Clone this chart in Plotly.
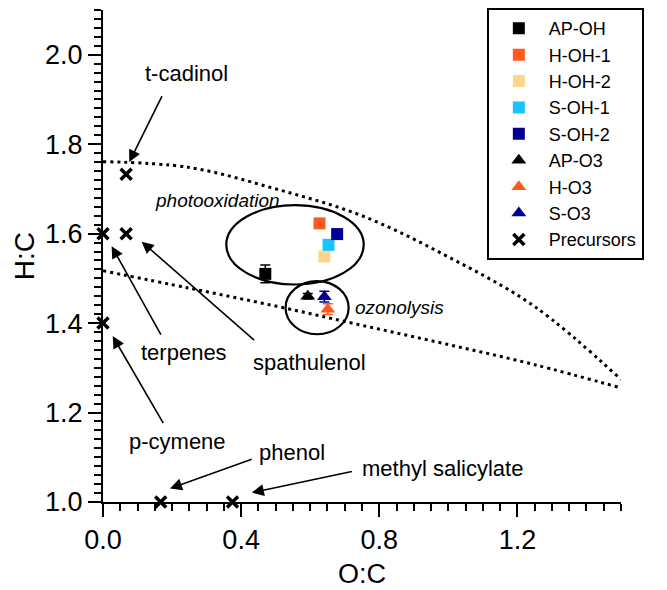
import plotly.graph_objects as go

# ---------------- data ----------------
series_names = ["AP-OH", "H-OH-1", "H-OH-2", "S-OH-1", "S-OH-2", "AP-O3", "H-O3", "S-O3"]
series_oc = [0.470, 0.627, 0.641, 0.653, 0.678, 0.593, 0.651, 0.641]
series_hc = [1.510, 1.623, 1.549, 1.575, 1.599, 1.460, 1.431, 1.459]
series_hc_err = [0.020, 0.0, 0.0, 0.0, 0.0, 0.006, 0.012, 0.012]

precursor_names = ["terpenes", "p-cymene", "t-cadinol", "spathulenol", "phenol", "methyl salicylate"]
precursor_oc = [0.0, 0.0, 0.067, 0.067, 0.167, 0.375]
precursor_hc = [1.6, 1.4, 1.733, 1.6, 1.0, 1.0]

boundary_oc = [0.0, 0.25, 0.5, 0.75, 1.0, 1.25, 1.5]
upper_boundary_hc = [1.761, 1.748, 1.700, 1.640, 1.548, 1.437, 1.274]
lower_boundary_hc = [1.517, 1.478, 1.438, 1.395, 1.352, 1.307, 1.255]

# ellipse regions: (center O:C, center H:C, half-width, half-height)
region_labels = ["photooxidation", "ozonolysis"]
region_center_oc = [0.556, 0.620]
region_center_hc = [1.575, 1.4345]
region_half_oc = [0.199, 0.0913]
region_half_hc = [0.0887, 0.0595]

x_tick_vals = [0.0, 0.4, 0.8, 1.2]
x_tick_text = ["0.0", "0.4", "0.8", "1.2"]
y_tick_vals = [1.0, 1.2, 1.4, 1.6, 1.8, 2.0]
y_tick_text = ["1.0", "1.2", "1.4", "1.6", "1.8", "2.0"]

# ---------------- styles ----------------
FONT = "Liberation Sans, Arial, sans-serif"
colors = {
    "AP-OH": "#000000", "H-OH-1": "#FF5A1E", "H-OH-2": "#FDD58C",
    "S-OH-1": "#19C3FF", "S-OH-2": "#000096", "AP-O3": "#000000",
    "H-O3": "#FF5A1E", "S-O3": "#000096",
}
symbols = {n: ("square" if "OH" in n else "triangle-up") for n in series_names}

fig = go.Figure()

# boundary dotted curves
for hc in (upper_boundary_hc, lower_boundary_hc):
    fig.add_trace(go.Scatter(
        x=boundary_oc, y=hc, mode="lines", showlegend=False, hoverinfo="skip",
        line=dict(color="black", width=3, dash="3px,4px", shape="spline"),
    ))

for name, xo, yh, err in zip(series_names, series_oc, series_hc, series_hc_err):
    fig.add_trace(go.Scatter(
        x=[xo], y=[yh], mode="markers", name=name,
        marker=dict(symbol=symbols[name], color=colors[name],
                    size=12 if symbols[name] == "square" else 13),
        error_y=dict(type="data", array=[err], visible=err > 0,
                     color=colors[name], thickness=1.5, width=5),
    ))

fig.add_trace(go.Scatter(
    x=precursor_oc, y=precursor_hc, mode="markers", name="Precursors",
    cliponaxis=False,
    marker=dict(symbol="x-thin", size=11, color="black",
                line=dict(color="black", width=3.5)),
))

# ellipses
for cx, cy, rx, ry in zip(region_center_oc, region_center_hc, region_half_oc, region_half_hc):
    fig.add_shape(type="circle", xref="x", yref="y",
                  x0=cx - rx, x1=cx + rx, y0=cy - ry, y1=cy + ry,
                  line=dict(color="black", width=2.2), layer="below")

annotations = []
# region labels
annotations.append(dict(x=0.332, y=1.674, text="<i>photooxidation</i>", showarrow=False,
                        font=dict(family=FONT, size=19, color="black")))
annotations.append(dict(x=0.725, y=1.434, text="<i>ozonolysis</i>", showarrow=False,
                        xanchor="left", font=dict(family=FONT, size=19, color="black")))

# precursor labels: (text x, text y, xanchor, tail x, tail y, tip x, tip y)
label_layout = {
    "t-cadinol": (0.243, 1.958, "center", 0.173, 1.911, 0.076, 1.760),
    "terpenes": (0.235, 1.334, "center", 0.170, 1.371, 0.025, 1.572),
    "spathulenol": (0.597, 1.311, "center", 0.442, 1.359, 0.112, 1.582),
    "p-cymene": (0.217, 1.136, "center", 0.177, 1.173, 0.028, 1.371),
    "phenol": (0.547, 1.110, "center", 0.435, 1.097, 0.194, 1.030),
    "methyl salicylate": (0.744, 1.076, "left", 0.725, 1.069, 0.431, 1.021),
}
for name in precursor_names:
    tx, ty, anc, ax_, ay_, px, py = label_layout[name]
    annotations.append(dict(x=tx, y=ty, text=name, showarrow=False, xanchor=anc,
                            font=dict(family=FONT, size=22, color="black")))
    annotations.append(dict(x=px, y=py, ax=ax_, ay=ay_, axref="x", ayref="y",
                            text="", showarrow=True, arrowhead=2, arrowsize=1.5,
                            arrowwidth=1.6, arrowcolor="black", standoff=0))

tick_font = dict(family=FONT, size=27, color="black")
# page body adds an 8px offset, so the figure is 8px smaller than the window
fig.update_layout(
    width=659, height=582,
    margin=dict(l=95, r=46, t=2, b=88, autoexpand=False),
    paper_bgcolor="white", plot_bgcolor="white",
    font=dict(family=FONT, color="black"),
    annotations=annotations,
    showlegend=True,
    legend=dict(x=0.741, y=1.004, xanchor="left", yanchor="top",
                bgcolor="white", bordercolor="black", borderwidth=2,
                font=dict(family=FONT, size=18, color="black"),
                itemwidth=50, tracegroupgap=0),
    xaxis=dict(range=[0, 1.5], showgrid=False, zeroline=False,
               showline=True, linecolor="black", linewidth=2,
               ticks="outside", ticklen=13, tickwidth=2, tickcolor="black",
               tickvals=x_tick_vals, ticktext=x_tick_text, tickfont=tick_font,
               minor=dict(tick0=0, dtick=0.05, ticks="outside", ticklen=7,
                          tickwidth=1.5, tickcolor="black", showgrid=False),
               title=dict(text="O:C", font=dict(family=FONT, size=27, color="black"),
                          standoff=10)),
    yaxis=dict(range=[1.0, 2.1], showgrid=False, zeroline=False,
               showline=True, linecolor="black", linewidth=2,
               ticks="outside", ticklen=13, tickwidth=2, tickcolor="black",
               tickvals=y_tick_vals, ticktext=y_tick_text, tickfont=tick_font,
               minor=dict(tick0=1.0, dtick=0.02, ticks="outside", ticklen=7,
                          tickwidth=1.5, tickcolor="black", showgrid=False),
               title=dict(text="H:C", font=dict(family=FONT, size=28, color="black"),
                          standoff=2)),
)

fig.write_html("out.html")
